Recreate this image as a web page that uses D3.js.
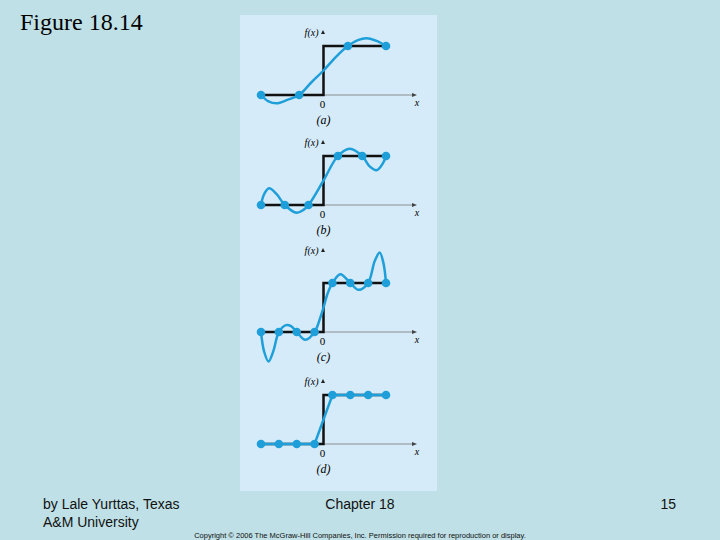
<!DOCTYPE html>
<html><head><meta charset="utf-8">
<script src="https://cdn.jsdelivr.net/npm/d3@7"></script>
<style>body{margin:0;background:#bfe0e6}</style>
</head><body><div id="chart"></div>
<script>
// panel labels
var panelNames = ["(a)", "(b)", "(c)", "(d)"];
// interpolation nodes per panel (x in [-1,1], y = step value)
var nodesA = [[-1,0],[-0.39,0],[0.39,1],[1,1]];
var nodesB = [[-1,0],[-0.62,0],[-0.24,0],[0.23,1],[0.62,1],[1,1]];
var nodesC = [[-1,0],[-5/7,0],[-3/7,0],[-1/7,0],[1/7,1],[3/7,1],[5/7,1],[1,1]];
var nodesD = nodesC;
// curve points
var curveA = [[-1,0],[-0.88,-0.13],[-0.75,-0.17],[-0.58,-0.1],[-0.39,0],[-0.2,0.25],[0,0.5],[0.2,0.78],[0.39,1],[0.55,1.12],[0.69,1.16],[0.86,1.1],[1,1]];
var curveB = [[-1,0],[-0.95,0.22],[-0.87,0.34],[-0.75,0.22],[-0.62,0],[-0.43,-0.16],[-0.32,-0.1],[-0.24,0],[0,0.5],[0.23,1],[0.42,1.15],[0.62,1],[0.73,0.8],[0.85,0.71],[0.95,0.85],[1,1]];
var curveC = [[-1,0],[-0.95,-0.4],[-0.88,-0.6],[-0.8,-0.38],[-5/7,0],[-0.6,0.14],[-0.52,0.12],[-3/7,0],[-0.29,-0.16],[-1/7,0],[-0.05,0.3],[0,0.5],[0.07,0.8],[1/7,1],[0.27,1.18],[3/7,1],[0.56,0.86],[5/7,1],[0.82,1.45],[0.9,1.62],[0.96,1.4],[1,1]];
var curveD = nodesD;

var panels = [
  {nodes: nodesA, curve: curveA, top: 46, smooth: true, fx: 36},
  {nodes: nodesB, curve: curveB, top: 156, smooth: true, fx: 146},
  {nodes: nodesC, curve: curveC, top: 283, smooth: true, fx: 254},
  {nodes: nodesD, curve: curveD, top: 395, smooth: false, fx: 385}
];

var svg = d3.select("#chart").append("svg").attr("width", 720).attr("height", 540)
  .style("font-family", "Liberation Serif");

svg.append("rect").attr("x", 240).attr("y", 15).attr("width", 197).attr("height", 476).attr("fill", "#d6ebf9");

var x = d3.scaleLinear().domain([-1, 1]).range([261, 386]);
var blue = "#1f9fd9";

panels.forEach(function (p, i) {
  var y = d3.scaleLinear().domain([0, 1]).range([p.top + 49, p.top]);
  var g = svg.append("g");
  // x axis
  g.append("line").attr("x1", x(0)).attr("x2", 412).attr("y1", y(0)).attr("y2", y(0))
    .attr("stroke", "#777").attr("stroke-width", 0.8);
  g.append("path").attr("d", "M412," + (y(0) - 2) + "L417," + y(0) + "L412," + (y(0) + 2) + "Z").attr("fill", "#444");
  // step function
  g.append("path")
    .attr("d", d3.line().x(function (d) { return x(d[0]); }).y(function (d) { return y(d[1]); })([[-1,0],[0,0],[0,1],[1,1]]))
    .attr("fill", "none").attr("stroke", "#111").attr("stroke-width", 2.5);
  // interpolant
  g.append("path")
    .attr("d", d3.line().x(function (d) { return x(d[0]); }).y(function (d) { return y(d[1]); })
      .curve(p.smooth ? d3.curveCatmullRom : d3.curveLinear)(p.curve))
    .attr("fill", "none").attr("stroke", blue).attr("stroke-width", 2.5);
  g.selectAll("circle").data(p.nodes).join("circle")
    .attr("cx", function (d) { return x(d[0]); }).attr("cy", function (d) { return y(d[1]); })
    .attr("r", 4.3).attr("fill", blue);
  // labels
  g.append("text").attr("x", x(0) - 5).attr("y", p.fx).attr("text-anchor", "end")
    .attr("font-size", 10).attr("font-style", "italic").text("f(x)");
  g.append("path").attr("d", "M" + (x(0) - 0.5) + "," + (p.fx - 6) + "l-2,4h4z").attr("fill", "#222");
  g.append("text").attr("x", x(0) - 1).attr("y", y(0) + 13).attr("text-anchor", "middle")
    .attr("font-size", 11).text("0");
  g.append("text").attr("x", 417).attr("y", y(0) + 11).attr("text-anchor", "middle")
    .attr("font-size", 10).attr("font-style", "italic").text("x");
  g.append("text").attr("x", x(0)).attr("y", y(0) + 29).attr("text-anchor", "middle")
    .attr("font-size", 12).attr("font-style", "italic").text(panelNames[i]);
});

svg.append("text").attr("x", 20).attr("y", 30).attr("font-size", 24).text("Figure 18.14");
var foot = svg.append("g").style("font-family", "Liberation Sans").attr("font-size", 14).attr("fill", "#111");
foot.append("text").attr("x", 43).attr("y", 509).text("by Lale Yurttas, Texas");
foot.append("text").attr("x", 43).attr("y", 527).text("A&M University");
foot.append("text").attr("x", 360).attr("y", 509).attr("text-anchor", "middle").text("Chapter 18");
foot.append("text").attr("x", 676).attr("y", 509).attr("text-anchor", "end").text("15");
foot.append("text").attr("x", 360).attr("y", 538).attr("text-anchor", "middle").attr("font-size", 7.5)
  .text("Copyright © 2006 The McGraw-Hill Companies, Inc. Permission required for reproduction or display.");
</script></body></html>
